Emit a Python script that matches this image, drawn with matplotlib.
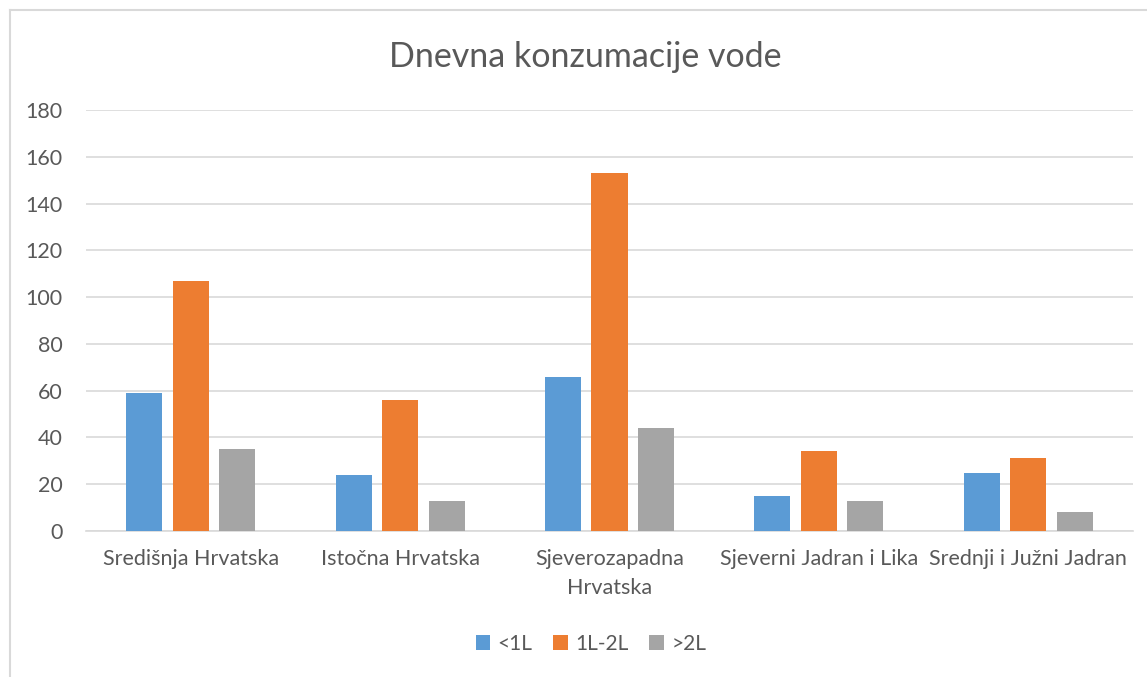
import matplotlib
matplotlib.use("Agg")
import matplotlib.pyplot as plt
from matplotlib.lines import Line2D
import numpy as np

categories = ["Središnja Hrvatska", "Istočna Hrvatska", "Sjeverozapadna\nHrvatska",
              "Sjeverni Jadran i Lika", "Srednji i Južni Jadran"]
series_names = ["<1L", "1L-2L", ">2L"]
lt1 = [59, 24, 66, 15, 25]
l1_2 = [107, 56, 153, 34, 31]
gt2 = [35, 13, 44, 13, 8]
yticks = [0, 20, 40, 60, 80, 100, 120, 140, 160, 180]

colors = ["#5B9BD5", "#ED7D31", "#A5A5A5"]
txt = "#595959"
font = "Lato"

fig = plt.figure(figsize=(11.47, 6.77), dpi=100)
ax = fig.add_axes([86/1147, 1-531/677, (1133-86)/1147, (531-110)/677])

x = np.arange(len(categories))
w = 0.172
off = 0.222
for i, (vals, c) in enumerate(zip([lt1, l1_2, gt2], colors)):
    ax.bar(x + (i-1)*off, vals, width=w, color=c, label=series_names[i], zorder=3)

ax.set_xlim(-0.5, len(categories)-0.5)
ax.set_ylim(0, 180)
ax.set_yticks(yticks)
ax.set_yticklabels([str(v) for v in yticks], fontsize=15.5, color=txt, family=font)
ax.set_xticks(x)
ax.set_xticklabels(categories, fontsize=15.5, color=txt, family=font, linespacing=1.55)
ax.tick_params(axis='both', length=0)
ax.tick_params(axis='y', pad=17)
ax.tick_params(axis='x', pad=13)
ax.grid(axis='y', color="#D9D9D9", linewidth=1.2, zorder=0)
for s in ["top", "right", "left"]:
    ax.spines[s].set_visible(False)
ax.spines["bottom"].set_color("#D9D9D9")
ax.spines["bottom"].set_linewidth(1.2)

fig.text(585/1147, 1-57/677, "Dnevna konzumacije vode", ha="center", va="center",
         fontsize=24.5, color=txt, family=font)

leg = fig.legend(loc="center", bbox_to_anchor=(591/1147, 1-644/677), ncol=3, frameon=False,
                 prop={"family": font, "size": 15}, handlelength=0.7, handleheight=0.7,
                 handletextpad=0.35, columnspacing=1.0)
for t in leg.get_texts():
    t.set_color(txt)

# chart border
fig.add_artist(Line2D([9.5/1147, 1], [1-10/677, 1-10/677], color="#D9D9D9", lw=1.5,
                      transform=fig.transFigure))
fig.add_artist(Line2D([9.5/1147, 9.5/1147], [0, 1-10/677], color="#D9D9D9", lw=1.5,
                      transform=fig.transFigure))

fig.savefig("out.png", dpi=100, facecolor="white")
